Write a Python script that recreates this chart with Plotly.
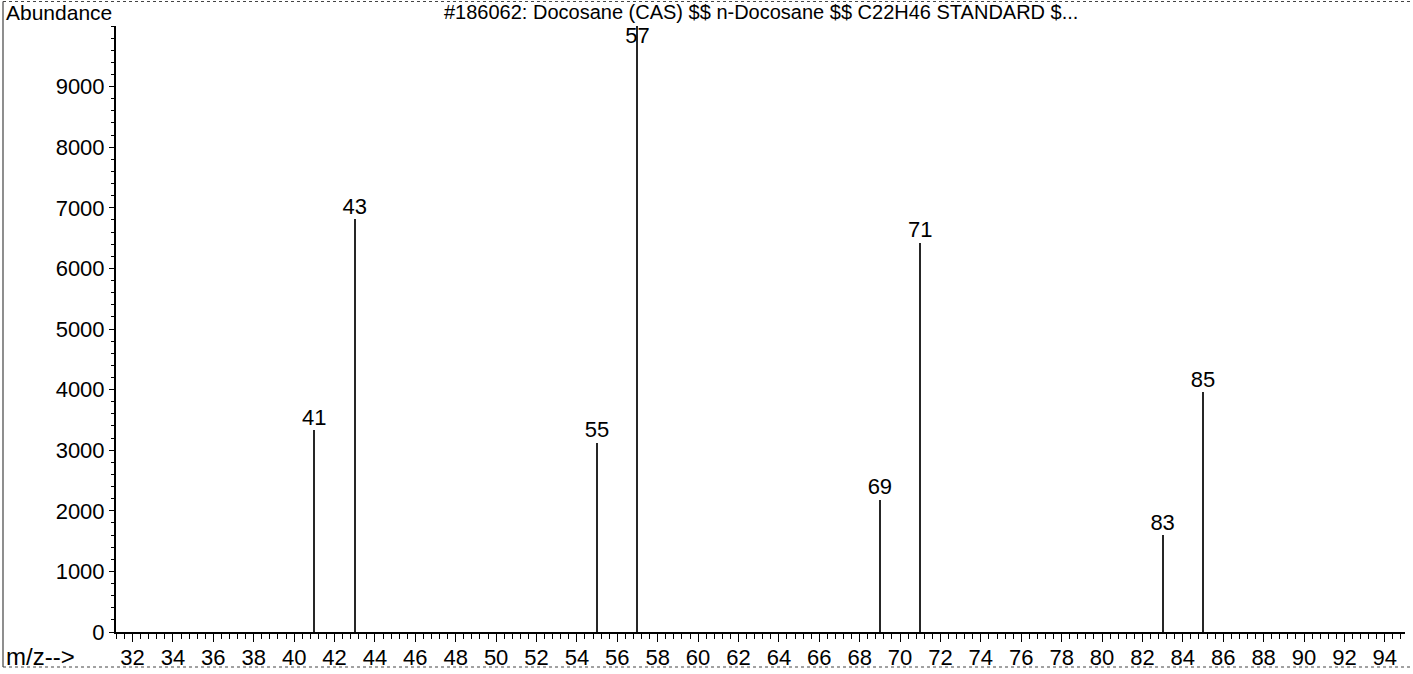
import plotly.graph_objects as go

# ---- data ----
mz = [41, 43, 55, 57, 69, 71, 83, 85]
abundance = [3330, 6815, 3120, 10000, 2180, 6420, 1600, 3960]
peak_labels = ["41", "43", "55", "57", "69", "71", "83", "85"]
label_pos = ["top center", "top center", "top center", "bottom center",
             "top center", "top center", "top center", "top center"]
x_tick_vals = list(range(32, 95, 2))
y_tick_vals = list(range(0, 10000, 1000))
title_text = "#186062: Docosane (CAS) $$ n-Docosane $$ C22H46 STANDARD $..."

W, H = 1413, 674
L, R, T, B = 116, 8, 26, 42
PW, PH = W - L - R, H - T - B
FONT = "Liberation Sans, Arial, sans-serif"


def px_x(sx):
    """page x pixel -> paper coordinate"""
    return (sx - L) / PW


def px_y(sy):
    """page y pixel -> paper coordinate"""
    return (H - B - sy) / PH


fig = go.Figure()

# stick spectrum
fig.add_trace(go.Bar(
    x=mz, y=abundance, width=0.06,
    marker=dict(color="#262626", line=dict(width=0)),
    hoverinfo="x+y", showlegend=False,
))

# peak labels
fig.add_trace(go.Scatter(
    x=mz, y=abundance, mode="text", text=peak_labels,
    textposition=label_pos,
    textfont=dict(family=FONT, size=22, color="black"),
    cliponaxis=False, showlegend=False, hoverinfo="skip",
))

fig.update_layout(
    template="none",
    width=W, height=H,
    margin=dict(l=L, r=R, t=T, b=B, pad=0, autoexpand=False),
    paper_bgcolor="white", plot_bgcolor="white",
    font=dict(family=FONT, size=22, color="black"),
    bargap=0,
    xaxis=dict(
        range=[31.18, 95.0], automargin=False,
        tickmode="array", tickvals=x_tick_vals,
        ticktext=[str(v) for v in x_tick_vals],
        ticks="outside", ticklen=8, tickwidth=1.3, tickcolor="black",
        minor=dict(dtick=0.4, tick0=32, ticks="outside", ticklen=5,
                   tickwidth=1, tickcolor="black", showgrid=False),
        showline=True, linecolor="black", linewidth=1.5, mirror=False,
        showgrid=False, zeroline=False,
        tickfont=dict(family=FONT, size=22, color="black"),
        ticklabelstandoff=-3,
    ),
    yaxis=dict(
        range=[0, 10000], automargin=False,
        tickmode="array", tickvals=y_tick_vals,
        ticktext=[str(v) for v in y_tick_vals],
        ticks="outside", ticklen=5, tickwidth=1.3, tickcolor="black",
        minor=dict(dtick=200, tick0=0, ticks="outside", ticklen=3,
                   tickwidth=1, tickcolor="black", showgrid=False),
        showline=True, linecolor="black", linewidth=2, mirror=False,
        showgrid=False, zeroline=False,
        tickfont=dict(family=FONT, size=22, color="black"),
        ticklabelstandoff=0,
    ),
    annotations=[
        dict(text="Abundance", xref="paper", yref="paper",
             x=px_x(4), y=px_y(12), xanchor="left", yanchor="middle",
             showarrow=False, font=dict(family=FONT, size=21, color="black")),
        dict(text=title_text, xref="paper", yref="paper",
             x=0.5, y=px_y(12), xanchor="center", yanchor="middle",
             showarrow=False, font=dict(family=FONT, size=20, color="black")),
        dict(text="m/z-->", xref="paper", yref="paper",
             x=px_x(4), y=px_y(657), xanchor="left", yanchor="middle",
             showarrow=False, font=dict(family=FONT, size=24, color="black")),
    ],
    shapes=[
        dict(type="line", xref="paper", yref="paper",
             x0=px_x(3), x1=px_x(W), y0=px_y(1.5), y1=px_y(1.5),
             line=dict(color="#444444", width=1, dash="dot")),
        dict(type="line", xref="paper", yref="paper",
             x0=px_x(3), x1=px_x(W), y0=px_y(667), y1=px_y(667),
             line=dict(color="#444444", width=1, dash="dot")),
        dict(type="line", xref="paper", yref="paper",
             x0=px_x(3), x1=px_x(3), y0=px_y(1.5), y1=px_y(667),
             line=dict(color="#444444", width=1.2)),
    ],
)

# remove the browser's default 8px body margin so the figure sits at (0, 0)
fig.write_html(
    "out.html",
    config={"displayModeBar": False},
    post_script="document.body.style.margin='0';document.body.style.overflow='hidden';",
)
